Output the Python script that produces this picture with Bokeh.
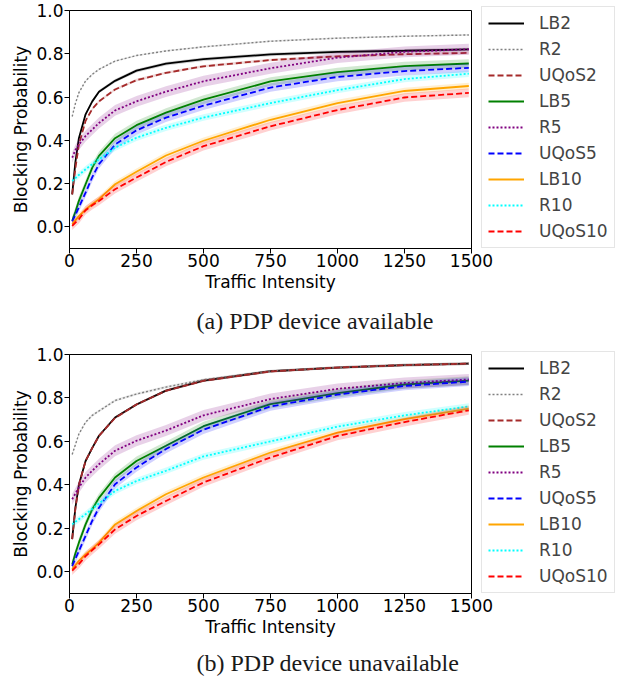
from bokeh.plotting import figure
from bokeh.layouts import column
from bokeh.models import Legend, LegendItem, Title, FixedTicker, PrintfTickFormatter, Range1d
from bokeh.embed import file_html
from bokeh.resources import INLINE

# ---------------- data ----------------
traffic = [10, 22, 35, 60, 85, 110, 170, 250, 360, 500, 750, 1000, 1250, 1490]

series_names = ["LB2", "R2", "UQoS2", "LB5", "R5", "UQoS5", "LB10", "R10", "UQoS10"]

# (a) PDP device available
a_LB2 = [0.15, 0.30, 0.41, 0.52, 0.58, 0.625, 0.675, 0.722, 0.754, 0.775, 0.797, 0.809, 0.814, 0.820]
a_R2 = [0.51, 0.57, 0.62, 0.674, 0.705, 0.728, 0.766, 0.792, 0.813, 0.832, 0.858, 0.872, 0.881, 0.887]
a_UQoS2 = [0.15, 0.27, 0.38, 0.49, 0.545, 0.58, 0.635, 0.678, 0.712, 0.742, 0.771, 0.788, 0.798, 0.804]
a_LB5 = [0.028, 0.07, 0.12, 0.197, 0.274, 0.328, 0.41, 0.47, 0.528, 0.588, 0.672, 0.715, 0.743, 0.755]
a_R5 = [0.32, 0.355, 0.38, 0.42, 0.45, 0.48, 0.538, 0.58, 0.625, 0.673, 0.733, 0.782, 0.809, 0.821]
a_UQoS5 = [0.025, 0.055, 0.09, 0.158, 0.23, 0.29, 0.38, 0.446, 0.505, 0.560, 0.644, 0.693, 0.720, 0.735]
a_LB10 = [0.012, 0.03, 0.05, 0.08, 0.105, 0.128, 0.197, 0.255, 0.33, 0.398, 0.495, 0.572, 0.628, 0.651]
a_R10 = [0.212, 0.225, 0.24, 0.266, 0.29, 0.312, 0.366, 0.412, 0.458, 0.505, 0.572, 0.632, 0.683, 0.708]
a_UQoS10 = [0.005, 0.02, 0.035, 0.077, 0.10, 0.12, 0.174, 0.228, 0.30, 0.373, 0.465, 0.540, 0.598, 0.619]

# (b) PDP device unavailable
b_LB2 = [0.15, 0.295, 0.40, 0.51, 0.57, 0.626, 0.71, 0.77, 0.834, 0.880, 0.923, 0.940, 0.951, 0.958]
b_R2 = [0.54, 0.585, 0.634, 0.688, 0.72, 0.74, 0.788, 0.818, 0.85, 0.884, 0.924, 0.940, 0.951, 0.958]
b_UQoS2 = [0.15, 0.29, 0.40, 0.51, 0.57, 0.625, 0.708, 0.77, 0.833, 0.879, 0.922, 0.940, 0.951, 0.958]
b_LB5 = [0.034, 0.085, 0.134, 0.218, 0.288, 0.34, 0.434, 0.51, 0.58, 0.670, 0.772, 0.822, 0.862, 0.880]
b_R5 = [0.334, 0.36, 0.388, 0.434, 0.465, 0.495, 0.557, 0.603, 0.65, 0.720, 0.795, 0.842, 0.869, 0.885]
b_UQoS5 = [0.026, 0.06, 0.095, 0.165, 0.235, 0.295, 0.403, 0.48, 0.565, 0.654, 0.761, 0.815, 0.855, 0.875]
b_LB10 = [0.011, 0.03, 0.05, 0.08, 0.105, 0.134, 0.218, 0.28, 0.357, 0.434, 0.549, 0.640, 0.703, 0.751]
b_R10 = [0.218, 0.23, 0.242, 0.265, 0.29, 0.314, 0.372, 0.418, 0.465, 0.531, 0.600, 0.668, 0.720, 0.761]
b_UQoS10 = [0.005, 0.02, 0.035, 0.072, 0.10, 0.126, 0.195, 0.257, 0.326, 0.411, 0.526, 0.625, 0.689, 0.743]

# half-width of the shaded spread band per series
band_a = [0.008, 0.004, 0.006, 0.02, 0.025, 0.02, 0.015, 0.015, 0.02]
band_b = [0.006, 0.006, 0.006, 0.02, 0.025, 0.02, 0.015, 0.015, 0.02]

x_ticks = [0, 250, 500, 750, 1000, 1250, 1500]
y_ticks = [0.0, 0.2, 0.4, 0.6, 0.8, 1.0]

captions = ["(a) PDP device available", "(b) PDP device unavailable"]

# ---------------- styles ----------------
colors = ["black", "grey", "brown", "green", "purple", "blue", "orange", "cyan", "red"]
dashes = ["solid", "2 2", "6 3", "solid", "2 2", "6 3", "solid", "2 2", "6 3"]
widths = [1.8, 1.4, 1.8, 1.8, 1.8, 1.8, 1.8, 1.8, 1.8]

FONT = "DejaVu Sans"


def make_panel(values, bands, caption, frame_h, border_top, title_standoff):
    p = figure(frame_width=402, frame_height=frame_h, output_backend="svg",
               toolbar_location=None, x_range=Range1d(0, 1500), y_range=Range1d(-0.1, 1.0),
               min_border_left=69, min_border_right=160, min_border_top=border_top,
               min_border_bottom=0)
    p.xgrid.visible = False
    p.ygrid.visible = False
    p.outline_line_color = "black"
    p.outline_line_width = 1
    p.outline_line_alpha = 1

    items = []
    for name, ys, bw, c, d, w in zip(series_names, values, bands, colors, dashes, widths):
        lo = [v - bw for v in ys]
        hi = [v + bw for v in ys]
        p.varea(x=traffic, y1=lo, y2=hi, fill_color=c, fill_alpha=0.18)
        r = p.line(x=traffic, y=ys, line_color=c, line_width=w, line_dash=d)
        items.append(LegendItem(label=name, renderers=[r]))

    for ax in (p.xaxis, p.yaxis):
        ax.major_label_text_font = FONT
        ax.major_label_text_font_size = "17px"
        ax.major_label_text_color = "black"
        ax.axis_label_text_font = FONT
        ax.axis_label_text_font_size = "17px"
        ax.axis_label_text_font_style = "normal"
        ax.axis_label_text_color = "black"
        ax.minor_tick_line_color = None
        ax.major_tick_in = 0
        ax.major_tick_out = 5
        ax.major_label_standoff = 1
        ax.axis_label_standoff = 2
        ax.axis_line_color = "black"
    p.xaxis.major_label_standoff = 0
    p.xaxis.ticker = FixedTicker(ticks=x_ticks)
    p.yaxis.ticker = FixedTicker(ticks=y_ticks)
    p.yaxis.formatter = PrintfTickFormatter(format="%.1f")
    p.xaxis.axis_label = "Traffic Intensity"
    p.yaxis.axis_label = "Blocking Probability"

    legend = Legend(items=items, location=(10, 0), margin=0, padding=6, spacing=6,
                    glyph_width=36, glyph_height=20, label_height=20, label_standoff=15,
                    label_text_font=FONT, label_text_font_size="17px",
                    border_line_color="#cccccc", border_line_width=1,
                    background_fill_color="white", background_fill_alpha=1.0)
    p.add_layout(legend, "right")

    t = Title(text=caption, align="left", offset=127, text_font="Liberation Serif",
              text_font_size="24px", text_font_style="normal", text_color="#1a1a1a",
              standoff=title_standoff)
    p.add_layout(t, "below")
    return p


vals_a = [a_LB2, a_R2, a_UQoS2, a_LB5, a_R5, a_UQoS5, a_LB10, a_R10, a_UQoS10]
vals_b = [b_LB2, b_R2, b_UQoS2, b_LB5, b_R5, b_UQoS5, b_LB10, b_R10, b_UQoS10]

p1 = make_panel(vals_a, band_a, captions[0], 238, 10, 22)
p2 = make_panel(vals_b, band_b, captions[1], 239, 10, 17)

layout = column(p1, p2, spacing=0)
open("out.html", "w").write(file_html(layout, INLINE))
